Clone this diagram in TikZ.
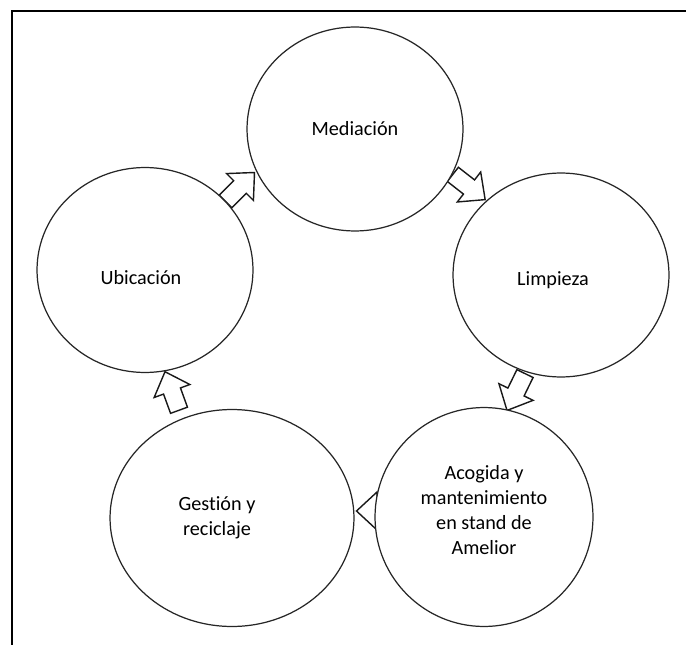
\documentclass[tikz,border=0pt]{standalone}
\usepackage{fontspec}
\setmainfont{Carlito}[Ligatures=NoCommon]
\usetikzlibrary{shapes.geometric}

\begin{document}
\begin{tikzpicture}[
  x=0.02cm, y=-0.02cm,
  stage/.style={draw=black!85, line width=0.7pt, fill=white, ellipse, inner sep=0pt, align=center, font=\fontsize{11.5}{14.2}\selectfont},
  blockarr/.pic={\draw[black!90, line width=0.8pt, fill=white, line join=miter]
    (-20.5,-9) -- (0,-9) -- (0,-19) -- (20.5,0) -- (0,19) -- (0,9) -- (-20.5,9) -- cycle;}]
  \useasboundingbox (0,0) rectangle (686,645);
  % frame (only top and left edge inside the page)
  \draw[line width=1.1pt] (700,11) -- (12,11) -- (12,660);
  % arrows first, the circles cover their tails
  \pic[rotate=45] (arrUM) at (240,187) {blockarr};
  \pic[rotate=-38] (arrML) at (469,187) {blockarr};
  \pic[rotate=-116] (arrLA) at (516,392) {blockarr};
  \pic[rotate=180] (arrAG) at (377,511) {blockarr};
  \pic[rotate=110] (arrGU) at (172,391) {blockarr};
  % stages of the cycle
  \node[stage, minimum width=4.32cm, minimum height=4.08cm] (med) at (355,129) {Mediación};
  \node[stage, minimum width=4.32cm, minimum height=4.08cm, text height=0.5cm] (lim) at (561,275) {\hspace*{-0.32cm}Limpieza};
  \node[stage, minimum width=4.36cm, minimum height=4.38cm, text depth=0.28cm] (acog) at (484,517) {Acogida y\\mantenimiento\\en stand de\\Amelior};
  \node[stage, minimum width=4.88cm, minimum height=4.34cm] (gest) at (232,518) {\hspace*{-0.6cm}\parbox{3cm}{\centering Gestión y\\reciclaje}};
  \node[stage, minimum width=4.32cm, minimum height=4.1cm, text height=0.6cm] (ubi) at (145,270) {\hspace*{-0.16cm}Ubicación};
\end{tikzpicture}
\end{document}
